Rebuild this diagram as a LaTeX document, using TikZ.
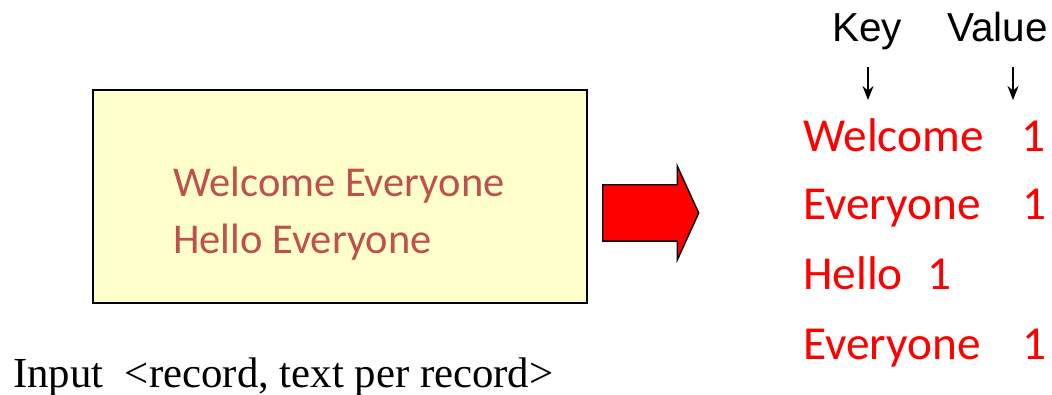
\documentclass[tikz,border=0pt]{standalone}
\usepackage{fontspec}
\usepackage{tikz}
\usetikzlibrary{arrows.meta,positioning,shapes.arrows}

\newfontfamily\calib{Carlito}
\newfontfamily\arialf{Liberation Sans}
\newfontfamily\timesf{Liberation Serif}
\definecolor{boxfill}{HTML}{FFFFCC}
\definecolor{rectxt}{HTML}{C0504D}

\begin{document}
\begin{tikzpicture}[x=1pt, y=-1pt, >=Stealth,
  rec/.style={anchor=base west, inner sep=0pt, text=rectxt,
              font=\calib\fontsize{42.5}{50}\selectfont},
  kv/.style={anchor=base west, inner sep=0pt, text=red,
             font=\calib\fontsize{47.3}{56}\selectfont},
  hdr/.style={anchor=base west, inner sep=0pt,
              font=\arialf\fontsize{40.5}{48}\selectfont},
  pt/.style={->, line width=1.6pt, arrows={-Stealth[length=14pt,width=11pt]}}]
  \useasboundingbox (0,0) rectangle (1052,395);

  % input split
  \node[draw, line width=1.8pt, fill=boxfill, minimum width=494pt,
        minimum height=213pt, anchor=north west] (box) at (92,89) {};
  \node[rec] (r1) at (173,197) {Welcome Everyone};
  \node[rec] (r2) at (173,254) {Hello Everyone};
  \node[anchor=base west, inner sep=0pt,
        font=\timesf\fontsize{42.8}{50}\selectfont] (cap) at (13,387)
        {Input \ {\textless}record, text per record{\textgreater}};

  % map step
  \node[single arrow, draw, line width=1.4pt, fill=red, inner xsep=0pt,
        inner ysep=27.5pt, minimum height=96pt, single arrow head extend=19pt,
        single arrow tip angle=131, single arrow head indent=0pt,
        anchor=tail] (map) at (602,213) {};

  % key / value pairs
  \node[hdr] (key) at (832,42) {Key};
  \node[hdr] (val) at (947,42) {Value};
  \coordinate (k1) at (868,67);  \coordinate (k2) at (868,100);
  \coordinate (v1) at (1013,67); \coordinate (v2) at (1013,100);
  \draw[pt] (k1) -- (k2);
  \draw[pt] (v1) -- (v2);

  \node[kv] (p1) at (803,152) {Welcome\hspace{38pt}1};
  \node[kv] (p2) at (803,220) {Everyone\hspace{42pt}1};
  \node[kv] (p3) at (803,290) {Hello\hspace{25pt}1};
  \node[kv] (p4) at (803,359) {Everyone\hspace{42pt}1};
\end{tikzpicture}
\end{document}
